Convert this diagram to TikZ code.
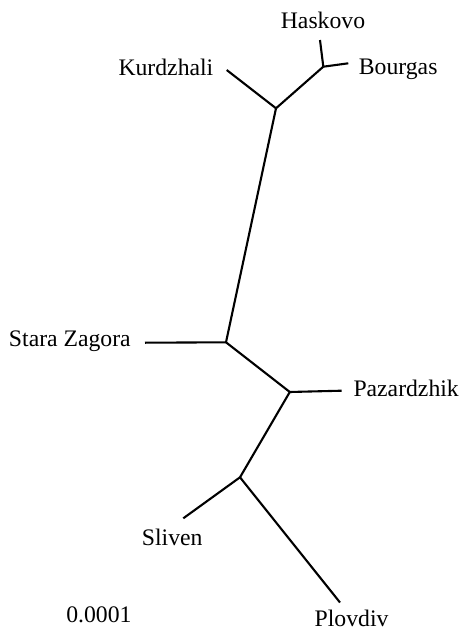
\documentclass[tikz,border=0pt]{standalone}
\usepackage{fontspec}
\setmainfont{Liberation Serif}
\begin{document}
\begin{tikzpicture}[x=1pt,y=-1pt,
  branch/.style={line width=2.1pt,line cap=butt,line join=miter},
  lbl/.style={inner sep=0pt,font=\fontsize{23.7}{26}\selectfont}]
\useasboundingbox (0,0) rectangle (461,629);
% internal nodes
\coordinate (hb) at (323.3,66.7);
\coordinate (top) at (276,108.3);
\coordinate (mid) at (226,342.3);
\coordinate (pz) at (289.8,392);
\coordinate (sp) at (240,477.3);
% tips
\coordinate (tHas) at (320,40);
\coordinate (tBou) at (348.3,63.3);
\coordinate (tKur) at (226.7,70);
\coordinate (tSta) at (145,342.7);
\coordinate (tPaz) at (341.7,390.7);
\coordinate (tSli) at (183.3,518.3);
\coordinate (tPlo) at (340,602.5);
% branches
\draw[branch] (hb) -- (tHas);
\draw[branch] (hb) -- (tBou);
\draw[branch] (top) -- (hb);
\draw[branch] (top) -- (tKur);
\draw[branch] (mid) -- (top);
\draw[branch] (mid) -- (tSta);
\draw[branch] (mid) -- (pz);
\draw[branch] (pz) -- (tPaz);
\draw[branch] (pz) -- (sp);
\draw[branch] (sp) -- (tSli);
\draw[branch] (sp) -- (tPlo);
% labels
\node[lbl,anchor=base] (lHas) at (323,28.3) {Haskovo};
\node[lbl,anchor=base east] (lKur) at (213.5,75) {Kurdzhali};
\node[lbl,anchor=base west] (lBou) at (358.7,74.5) {Bourgas};
\node[lbl,anchor=base west] (lSta) at (8.8,346.7) {Stara Zagora};
\node[lbl,anchor=base west] (lPaz) at (353.3,396.7) {Pazardzhik};
\node[lbl,anchor=base west] (lSli) at (141.7,545) {Sliven};
\node[lbl,anchor=base west] (lPlo) at (314.5,626.3) {Plovdiv};
\node[lbl,anchor=base east] (lScale) at (131.7,622.7) {0.0001};
\end{tikzpicture}
\end{document}
